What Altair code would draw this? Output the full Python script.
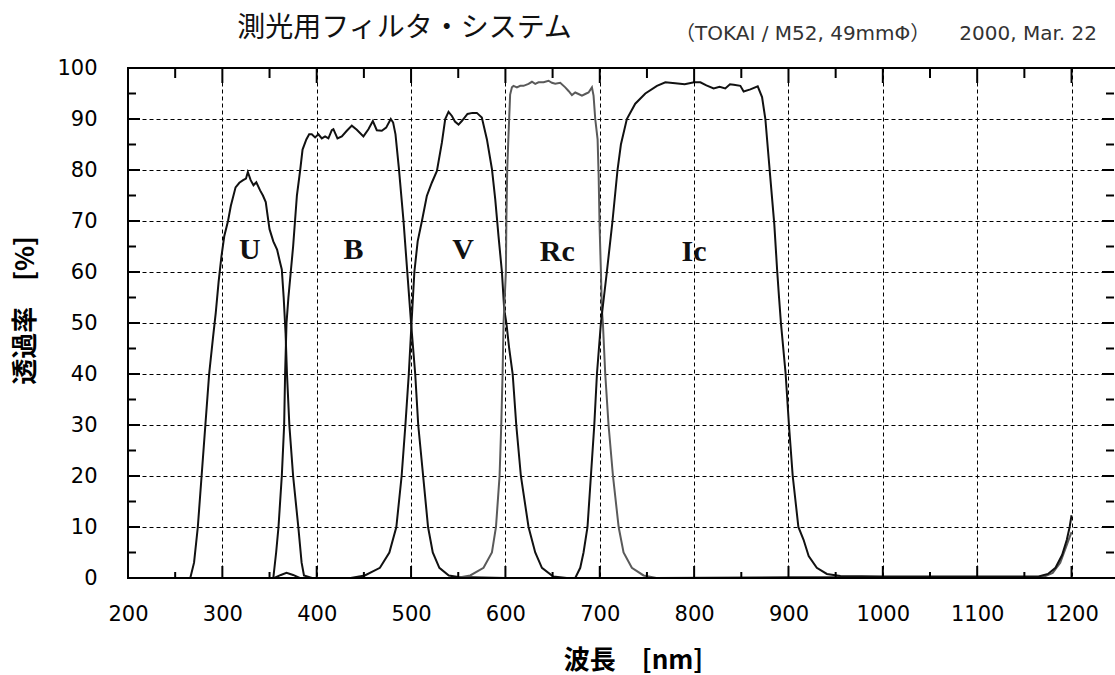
import altair as alt
import pandas as pd

# ---------------- data ----------------
U_nm = [250, 266, 270, 274, 278, 282, 286, 290, 293, 296, 299, 302, 306, 309, 314, 318, 322, 325, 327, 330,
        333, 336, 340, 343, 346, 348, 350, 354, 358, 361, 363, 365, 367, 368.5, 371, 375, 380.5, 384, 386.5, 395]
U_pct = [0, 0, 3, 10, 20, 30, 40, 47, 52, 58, 63, 67, 70, 73, 76.6, 77.5, 78, 78.3, 79.6, 78,
         77, 77.6, 76, 75, 73.7, 71, 68.4, 66, 64.4, 62, 60.5, 55, 48, 40, 30, 20, 10, 3, 0.5, 0]

B_nm = [340, 354, 357, 359.5, 363, 365.5, 366.5, 368, 370, 372.5, 375, 377, 379, 382.5, 385, 389, 392, 394.8,
        398.3, 401.8, 405.4, 408.9, 412.4, 416, 417.7, 422, 426.6, 431.9, 437.2, 442.5, 449.5, 454.8, 459.5,
        463.7, 469, 473.6, 478.5, 481, 483.5, 487, 492, 496, 500, 504.4, 507.6, 512.8, 518, 523, 530, 540, 550, 600]
B_pct = [0, 0, 5, 10, 20, 30, 40, 50, 55, 60, 65, 70, 75, 80, 84, 86, 87, 87,
         86.4, 87, 86.2, 86.6, 86.2, 87.8, 88, 86.2, 86.6, 87.7, 88.7, 87.9, 86.6, 88, 89.6,
         87.8, 87.7, 88.3, 90, 89.3, 87, 80.5, 70, 60, 50, 40, 30, 20, 10, 5, 2, 0.5, 0.2, 0]

V_nm = [355, 362, 368, 375, 382, 436, 451, 467, 477, 484.4, 490, 494, 497.6, 500.5, 503.5, 507, 511.4, 516.7,
        522, 527.4, 532.7, 536.2, 539.7, 543.3, 546.5, 550.3, 553.8, 559.8, 565, 569.7, 575, 580.4, 585.7,
        589.2, 592.7, 596.3, 598.7, 601, 604, 607.7, 611.5, 616.4, 624.5, 631.6, 638.7, 650.7, 665]
V_pct = [0, 0.6, 1, 0.6, 0, 0, 0.5, 2, 5, 10, 20, 30, 40, 50, 60, 66, 69.9, 74.9,
         77.5, 79.8, 85.4, 90, 91.4, 90.6, 89.5, 88.9, 89.6, 91, 91.2, 91.2, 90.3, 86, 80.2,
         74.3, 67, 60, 52.7, 50, 45, 40, 30, 20, 10, 5, 2, 0.3, 0]

Rc_nm = [540, 548, 562.7, 576.8, 585.7, 590, 593.8, 595.6, 597, 598, 600.5, 601, 601.9, 603.3, 605, 606.9,
         608.6, 612.2, 615.7, 619.2, 624.5, 628.1, 631.6, 635.1, 640.4, 645.7, 649.3, 652.8, 658.1, 663.4,
         666.9, 670.5, 674, 677.5, 681.1, 684.6, 688.1, 691.7, 693.4, 695.2, 697.7, 698.8, 699.8, 701.3,
         702.2, 703.3, 705.8, 709.3, 714, 720, 725.2, 734, 746.4, 760, 900, 1100, 1170, 1180, 1188, 1194,
         1198, 1200]
Rc_pct = [0, 0, 0.5, 2, 5, 10, 20, 30, 40, 50, 60, 70, 80, 87, 94.8, 96.2,
          96.5, 96.2, 96.5, 96.5, 96.9, 97.3, 96.9, 97.2, 97.2, 97.5, 97.1, 96.9, 97.1, 96.2,
          95.5, 94.7, 95.2, 94.9, 94.6, 94.9, 95.2, 96.2, 94.6, 90, 86, 79, 69, 59.5,
          52.7, 50, 40, 30, 20, 10, 5, 2, 0.5, 0, 0.2, 0.2, 0.2, 1, 3, 6,
          8, 9]

Ic_nm = [660, 674, 679.3, 682.8, 687, 690.6, 694.2, 697, 701.2, 707.5, 713.5, 718.8, 722.4, 728.7, 737.6,
         748.3, 760.6, 769.5, 780, 790, 800, 806.6, 813, 820.7, 827, 833, 838, 842, 849, 852.5, 859.6, 867.4,
         872, 875.5, 879, 882.6, 885, 888, 890, 892, 897, 900.5, 904.5, 910.5, 916, 921.4, 930, 940.7, 955,
         1000, 1100, 1165, 1175, 1183, 1190, 1195, 1198, 1200]
Ic_pct = [0, 0, 2, 5, 10, 20, 30, 40, 50, 60, 70, 80, 85, 90, 93,
          95, 96.5, 97.2, 97, 96.8, 97.2, 97.2, 96.6, 96, 96.3, 96, 96.8, 96.7, 96.5, 95.4, 95.8, 96.4,
          94.3, 90, 82.3, 74.5, 69.3, 60.3, 55, 50, 40, 30, 20, 10, 7.5, 4.3, 2, 0.8, 0.4,
          0.3, 0.3, 0.3, 0.8, 2, 4.5, 7.5, 10, 12.3]

filters = ["U", "B", "V", "Rc", "Ic"]
filter_colors = ["#111111", "#111111", "#111111", "#5a5a5a", "#111111"]
label_nm = [329, 439, 555, 655, 800]
label_pct = [64.4, 64.4, 64.3, 64.0, 64.0]

x_grid = [200, 300, 400, 500, 600, 700, 800, 900, 1000, 1100, 1200]
x_minor = [250, 350, 450, 550, 650, 750, 850, 950, 1050, 1150]
x_major = [300, 400, 500, 600, 700, 800, 900, 1000, 1100, 1200]
y_grid = [0, 10, 20, 30, 40, 50, 60, 70, 80, 90, 100]
y_major = [10, 20, 30, 40, 50, 60, 70, 80, 90]
y_minor = [5, 15, 25, 35, 45, 55, 65, 75, 85, 95]

title_text = "測光用フィルタ・システム"
sub1_text = "（TOKAI / M52, 49mmΦ）"
sub2_text = "2000, Mar. 22"

# ---------------- build tables ----------------
rows = []
for name, xs_, ys_ in [("U", U_nm, U_pct), ("B", B_nm, B_pct), ("V", V_nm, V_pct),
                        ("Rc", Rc_nm, Rc_pct), ("Ic", Ic_nm, Ic_pct)]:
    for i, (a, b) in enumerate(zip(xs_, ys_)):
        rows.append({"filter": name, "nm": a, "pct": b, "i": i})
df = pd.DataFrame(rows)
labels_df = pd.DataFrame({"name": filters, "nm": label_nm, "pct": label_pct})

W, H = 986, 510
xs = alt.Scale(domain=[200, 1245], nice=False, zero=False)
ys = alt.Scale(domain=[0, 100], nice=False, zero=False)

x_axis = alt.Axis(values=x_grid, format="d", grid=True, gridDash=[4, 3], gridColor="#000", gridWidth=1,
                  gridOpacity=1, domain=False, ticks=False, labelPadding=25, labelFont="DejaVu Sans",
                  labelFontSize=21, labelColor="#000", title="波長　[nm]", titleX=505, titleY=82,
                  titleAlign="center", titleBaseline="middle", titleAngle=0, titleFont="Noto Sans CJK JP",
                  titleFontSize=26, titleFontWeight="bold", titleColor="#000", labelFlush=False,
                  labelOverlap=False)
y_axis = alt.Axis(values=y_grid, format="d", grid=True, gridDash=[4, 3], gridColor="#000", gridWidth=1,
                  gridOpacity=1, domain=False, ticks=False, labelPadding=31, labelFont="DejaVu Sans",
                  labelFontSize=21, labelColor="#000", title="透過率　[%]", titleX=-103, titleY=242,
                  titleAlign="center", titleBaseline="middle", titleAngle=270, titleFont="Noto Sans CJK JP",
                  titleFontSize=26, titleFontWeight="bold", titleColor="#000", labelFlush=False,
                  labelOverlap=False)

X_nm = alt.X("nm:Q", scale=xs, axis=x_axis)
Y_pct = alt.Y("pct:Q", scale=ys, axis=y_axis)

lines = alt.Chart(df).mark_line(strokeWidth=2, clip=True).encode(
    x=X_nm,
    y=Y_pct,
    color=alt.Color("filter:N", scale=alt.Scale(domain=filters, range=filter_colors), legend=None),
    order=alt.Order("i:Q"),
)

texts = alt.Chart(labels_df).mark_text(font="Liberation Serif", fontWeight="bold", fontSize=30,
                                       color="#111", baseline="middle", align="center").encode(
    x=X_nm,
    y=Y_pct,
    text="name:N",
)


def xticks(vals, y0, y1):
    d = pd.DataFrame({"nm": vals})
    return alt.Chart(d).mark_rule(color="#000", strokeWidth=2).encode(
        x=X_nm, y=alt.value(y0), y2=alt.value(y1))


def yticks(vals, x0, x1):
    d = pd.DataFrame({"pct": vals})
    return alt.Chart(d).mark_rule(color="#000", strokeWidth=2).encode(
        y=Y_pct, x=alt.value(x0), x2=alt.value(x1))


ticks = [
    xticks(x_major, 0, 15), xticks(x_minor, 0, 10),
    xticks(x_major, H - 12, H), xticks(x_minor, H - 6, H),
    yticks(y_major, 0, 12), yticks(y_minor, 0, 8),
    yticks(y_major, W - 12, W), yticks(y_minor, W - 8, W),
]

one = pd.DataFrame({"k": [0]})
frame_top = alt.Chart(one).mark_rule(color="#000", strokeWidth=2).encode(
    x=alt.value(0), x2=alt.value(W + 2), y=alt.value(0))
frame_left = alt.Chart(one).mark_rule(color="#000", strokeWidth=2).encode(
    x=alt.value(0), y=alt.value(-1), y2=alt.value(H + 1))
frame_bottom = alt.Chart(one).mark_rule(color="#000", strokeWidth=2).encode(
    x=alt.value(0), x2=alt.value(W + 2), y=alt.value(H))

title = alt.Chart(pd.DataFrame({"t": [title_text]})).mark_text(
    font="Noto Sans CJK JP", fontSize=28, color="#111", align="center", baseline="middle").encode(
    text="t:N", x=alt.value(276.5), y=alt.value(-39))
sub1 = alt.Chart(pd.DataFrame({"t": [sub1_text]})).mark_text(
    font="DejaVu Sans, Noto Sans CJK JP", fontSize=20, color="#333", align="left", baseline="middle").encode(
    text="t:N", x=alt.value(547), y=alt.value(-34))
sub2 = alt.Chart(pd.DataFrame({"t": [sub2_text]})).mark_text(
    font="DejaVu Sans", fontSize=20, color="#333", align="right", baseline="middle").encode(
    text="t:N", x=alt.value(969), y=alt.value(-34))

chart = alt.layer(lines, texts, *ticks, frame_top, frame_left, frame_bottom, title, sub1, sub2).properties(
    width=W, height=H,
    autosize=alt.AutoSizeParams(type="none"),
    padding={"left": 128, "top": 68, "right": 1, "bottom": 97},
    background="white",
).configure_view(stroke=None)

chart.save("out.html", embed_options={"renderer": "svg", "actions": False})
